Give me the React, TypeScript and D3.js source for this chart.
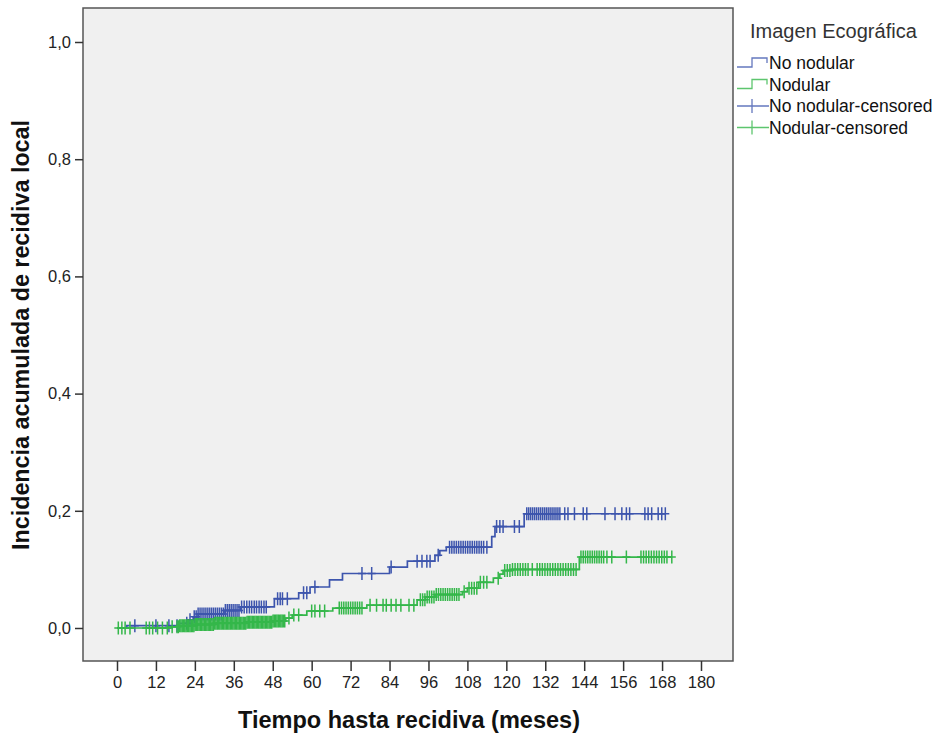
import * as d3 from 'd3'
import { useEffect, useRef } from 'react'

const width = 937, height = 738
const frame = { left: 83, top: 8, right: 733, bottom: 661 }

const xTicks = [0, 12, 24, 36, 48, 60, 72, 84, 96, 108, 120, 132, 144, 156, 168, 180]
const yTicks = [0, 0.2, 0.4, 0.6, 0.8, 1.0]

// step points [months, cumulative incidence]
const noNodularSteps: [number, number][] = [
  [0, 0], [3, 0.004], [19, 0.008], [22, 0.014], [23.5, 0.019], [25, 0.024],
  [33, 0.030], [38, 0.036], [48.5, 0.050], [56, 0.060], [59.5, 0.070],
  [65.5, 0.082], [69.5, 0.093], [84, 0.104], [89.5, 0.114], [98, 0.124],
  [99.5, 0.132], [101.5, 0.138], [115.5, 0.156], [116.5, 0.173], [125.5, 0.195],
]
const noNodularEnd = 169

const nodularSteps: [number, number][] = [
  [0, 0], [17, 0.002], [19, 0.004], [24, 0.006], [30, 0.008], [40, 0.010],
  [48, 0.012], [52, 0.017], [54, 0.022], [58.5, 0.029], [66.5, 0.034],
  [77, 0.039], [92.5, 0.048], [95, 0.053], [98, 0.057], [106.5, 0.062],
  [108, 0.068], [111.5, 0.078], [116, 0.085], [118, 0.092], [119, 0.098],
  [121.5, 0.100], [142.5, 0.121],
]
const nodularEnd = 171

// censored times (months)
const noNodularCensored = [
  5.5, 12, 16, 18.5, 21.5, 22.5, 23.8, 24.4, 25, 25.6, 26.2, 26.8, 27.4, 28,
  28.6, 29.2, 29.8, 30.4, 31, 31.6, 32.2, 32.8, 33.4, 34, 34.6, 35.2, 35.8, 36.4,
  37, 37.6, 38.4, 39.2, 40, 40.8, 41.5, 42.3, 43, 43.8, 44.5, 45.3, 46, 49.5, 50.3,
  51, 52.5, 57.5, 58.5, 61, 75.5, 78.5, 84.5, 92.5, 94, 95.5, 96.5, 99, 102.5,
  103.2, 103.9, 104.6, 105.3, 106, 106.7, 107.4, 108.1, 108.8, 109.5, 110.2,
  110.9, 111.6, 112.3, 113, 114, 117, 118, 119, 122.5, 124, 126.3, 126.9, 127.5,
  128.1, 128.7, 129.3, 129.9, 130.5, 131.1, 131.7, 132.3, 132.9, 133.5, 134.1,
  134.7, 135.3, 135.9, 136.5, 138, 139, 141, 143.7, 144.8, 150.4, 153.5, 155.6,
  157, 158, 162.7, 163.7, 164.8, 166.8, 167.9, 169,
]
const nodularCensored = [
  0.4, 1.5, 2.5, 4, 9, 10, 11, 12.5, 14, 15.5, 17, 18.5, 18.9, 19.3, 19.7, 20.1,
  20.5, 20.9, 21.3, 21.7, 22.1, 22.5, 22.9, 23.3, 23.7, 24.1, 24.5, 24.9, 25.3,
  25.7, 26.1, 26.5, 26.9, 27.3, 27.7, 28.1, 28.5, 28.9, 29.3, 29.7, 30.1, 30.5,
  30.9, 31.3, 31.7, 32.1, 32.5, 32.9, 33.3, 33.7, 34.1, 34.5, 34.9, 35.3, 35.7,
  36.1, 36.5, 36.9, 37.3, 37.7, 38.1, 38.5, 38.9, 39.3, 39.7, 40.1, 40.5, 40.9,
  41.3, 41.7, 42.1, 42.5, 42.9, 43.3, 43.7, 44.1, 44.5, 44.9, 45.3, 45.7, 46.1,
  46.5, 46.9, 47.3, 47.7, 48.1, 48.5, 48.9, 49.3, 49.7, 50.1, 50.5, 50.9, 51.3,
  51.7, 53, 54.5, 56, 60, 61, 62.5, 64, 68.5, 69.2, 69.9, 70.6, 71.3, 72, 72.7,
  73.4, 74.1, 74.8, 75.5, 78, 80, 82, 83, 84.5, 86, 87.5, 90, 91.5, 93.5, 94.2,
  94.9, 95.6, 96.3, 97, 97.7, 98.4, 99.1, 99.8, 100.5, 101.2, 101.9, 102.6, 103.3,
  104, 104.7, 105.4, 107, 108.5, 109.3, 110.1, 110.9, 112, 113, 114, 117.5, 119.5,
  120.3, 121.1, 121.9, 122.7, 123.5, 124.3, 125.1, 125.9, 126.7, 128, 129.5,
  130.3, 131.1, 131.9, 132.7, 133.5, 134.3, 135.1, 135.9, 136.7, 137.5, 138.3,
  139.1, 139.9, 140.7, 141.5, 143, 143.7, 144.4, 145.1, 145.8, 146.5, 147.2,
  147.9, 148.6, 149.3, 150, 151, 152.5, 157, 161.5, 162.3, 163.1, 163.9, 164.7,
  165.5, 166.3, 167.1, 167.9, 168.7, 169.5, 171,
]

const blue = '#3d55ad'
const green = '#34b74a'
const font = '"Liberation Sans", Arial, sans-serif'

const groups = [
  { name: 'No nodular', color: blue, steps: noNodularSteps, end: noNodularEnd, censored: noNodularCensored },
  { name: 'Nodular', color: green, steps: nodularSteps, end: nodularEnd, censored: nodularCensored },
]

const chart = (svgNode: SVGSVGElement) => {
  const svg = d3.select(svgNode)
  svg.selectAll('*').remove()
  svg.attr('width', width).attr('height', height).attr('font-family', font)

  const x = d3.scaleLinear().domain([0, 180]).range([117, 701])
  const y = d3.scaleLinear().domain([0, 1]).range([628, 42])

  svg.append('rect')
    .attr('x', frame.left).attr('y', frame.top)
    .attr('width', frame.right - frame.left).attr('height', frame.bottom - frame.top)
    .attr('fill', '#f0f0f0')

  const line = d3.line<[number, number]>()
    .x(d => x(d[0])).y(d => y(d[1]))
    .curve(d3.curveStepAfter)

  groups.forEach(g => {
    const last = g.steps[g.steps.length - 1]
    const pts: [number, number][] = [...g.steps, [g.end, last[1]]]
    svg.append('path')
      .attr('d', line(pts))
      .attr('fill', 'none')
      .attr('stroke', g.color)
      .attr('stroke-width', 1.7)

    const bis = d3.bisector((d: [number, number]) => d[0]).right
    const valueAt = (t: number) => g.steps[Math.max(0, bis(g.steps, t) - 1)][1]

    svg.append('g')
      .attr('stroke', g.color)
      .attr('stroke-width', 1.5)
      .selectAll('path')
      .data(g.censored)
      .join('path')
      .attr('d', t => {
        const cx = x(t), cy = y(valueAt(t))
        return `M${cx - 4},${cy}H${cx + 4}M${cx},${cy - 6.5}V${cy + 6.5}`
      })
  })

  // frame
  svg.append('rect')
    .attr('x', frame.left).attr('y', frame.top)
    .attr('width', frame.right - frame.left).attr('height', frame.bottom - frame.top)
    .attr('fill', 'none')
    .attr('stroke', '#555')
    .attr('stroke-width', 1.5)

  // x axis
  const xAxis = svg.append('g')
    .attr('transform', `translate(0,${frame.bottom})`)
    .call(d3.axisBottom(x).tickValues(xTicks).tickSize(10).tickPadding(5).tickFormat(d3.format('d')))
  xAxis.select('.domain').remove()
  xAxis.selectAll('line').attr('stroke', '#333').attr('stroke-width', 1.5)
  xAxis.selectAll('text').attr('font-size', 16.5).attr('fill', '#222').attr('font-family', font)

  // y axis
  const yAxis = svg.append('g')
    .attr('transform', `translate(${frame.left},0)`)
    .call(d3.axisLeft(y).tickValues(yTicks).tickSize(8).tickPadding(4)
      .tickFormat(d => d3.format('.1f')(d as number).replace('.', ',')))
  yAxis.select('.domain').remove()
  yAxis.selectAll('line').attr('stroke', '#333').attr('stroke-width', 1.5)
  yAxis.selectAll('text').attr('font-size', 16.5).attr('fill', '#222').attr('font-family', font)

  // axis titles
  svg.append('text')
    .attr('x', 409).attr('y', 728)
    .attr('text-anchor', 'middle')
    .attr('font-size', 23).attr('font-weight', 'bold').attr('fill', '#111')
    .attr('textLength', 342).attr('lengthAdjust', 'spacingAndGlyphs')
    .text('Tiempo hasta recidiva (meses)')

  svg.append('text')
    .attr('transform', `translate(29,335) rotate(-90)`)
    .attr('text-anchor', 'middle')
    .attr('font-size', 23).attr('font-weight', 'bold').attr('fill', '#111')
    .attr('textLength', 430).attr('lengthAdjust', 'spacingAndGlyphs')
    .text('Incidencia acumulada de recidiva local')

  // legend
  const legend = svg.append('g').attr('font-size', 17.5)
  legend.append('text')
    .attr('x', 750).attr('y', 38)
    .attr('font-size', 20).attr('fill', '#333')
    .text('Imagen Ecográfica')

  const items = [
    { label: 'No nodular', color: blue, kind: 'step' },
    { label: 'Nodular', color: green, kind: 'step' },
    { label: 'No nodular-censored', color: blue, kind: 'cross' },
    { label: 'Nodular-censored', color: green, kind: 'cross' },
  ]
  const rows = legend.selectAll('g.item')
    .data(items)
    .join('g')
    .attr('class', 'item')
    .attr('transform', (_, i) => `translate(0,${63 + i * 21.5})`)

  rows.append('path')
    .attr('d', d => d.kind === 'step'
      ? 'M737,4H752V-5H767V0'
      : 'M737,0H769M752,-7V7')
    .attr('fill', 'none')
    .attr('stroke', d => d.color)
    .attr('stroke-opacity', 0.8)
    .attr('stroke-width', 1.3)

  rows.append('text')
    .attr('x', 769).attr('dy', '0.35em')
    .attr('fill', '#111')
    .text(d => d.label)
}

export default function App() {
  const svg = useRef<SVGSVGElement>(null)
  useEffect(() => {
    if (svg.current) chart(svg.current)
  }, [])
  return <svg ref={svg} style={{ position: 'absolute', left: 0, top: 0, background: '#fff' }} />
}
